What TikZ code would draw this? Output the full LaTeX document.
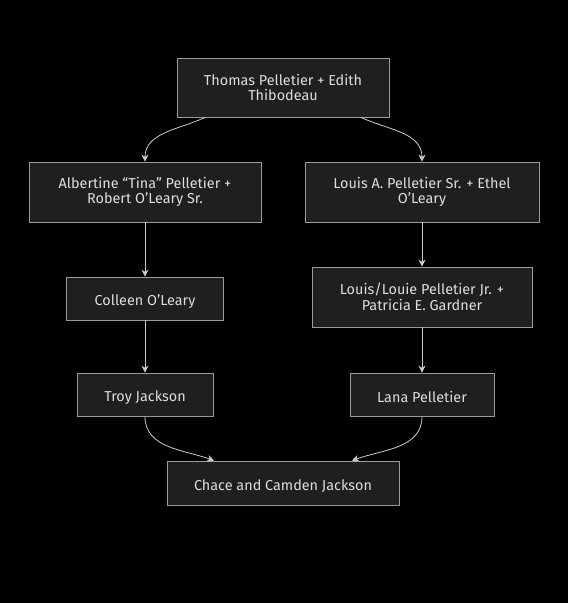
\documentclass[tikz,border=0pt]{standalone}
\usepackage{fontspec}
\setmainfont{Fira Sans}
\usepackage{tikz}
\usetikzlibrary{arrows.meta}

\definecolor{boxfill}{HTML}{1F1F1F}
\definecolor{boxline}{HTML}{9A9A9A}
\definecolor{txt}{HTML}{DDDDDD}
\definecolor{wire}{HTML}{CCCCCC}

\begin{document}
\begin{tikzpicture}[x=1pt, y=-1pt,
    person/.style = {draw=boxline, fill=boxfill, text=txt, align=center,
      inner sep=0pt, line width=0.8pt, font=\fontsize{14.4}{15.8}\selectfont,
      execute at begin node={\rule{0pt}{16.5pt}},
      execute at end node={\rule{0pt}{16.5pt}}},
    link/.style = {draw=wire, line width=0.8pt,
      -{Stealth[length=7pt, width=7pt]}}]
    \fill[black] (0,0) rectangle (568,603);
    \useasboundingbox (0,0) rectangle (568,603);

      \node[person, minimum width=212pt, minimum height=59pt] (thomas) at (283,87.5)
        {Thomas Pelletier + Edith\\Thibodeau};

      \node[person, minimum width=232pt, minimum height=60pt] (tina) at (145,192)
        {Albertine “Tina” Pelletier +\\Robert O’Leary Sr.};
      \node[person, minimum width=234pt, minimum height=60pt] (louis) at (422,192)
        {Louis A. Pelletier Sr. + Ethel\\O’Leary};

      \node[person, minimum width=157pt, minimum height=43pt] (colleen) at (145,298.5)
        {Colleen O’Leary};
      \node[person, minimum width=220pt, minimum height=60pt] (louie) at (422,297)
        {Louis/Louie Pelletier Jr. +\\Patricia E. Gardner};

      \node[person, minimum width=136pt, minimum height=43pt] (troy) at (145,394.5)
        {Troy Jackson};
      \node[person, minimum width=144pt, minimum height=43pt] (lana) at (422,394.5)
        {Lana Pelletier};

      \node[person, minimum width=232pt, minimum height=44pt] (chace) at (283,483)
        {Chace and Camden Jackson};

      % parents down to the children
      \draw[link] (thomas.-159) to[out=-155, in=90] (tina.north);
      \draw[link] (thomas.-21) to[out=-25, in=90] (louis.north);
      \draw[link] (tina) -- (colleen);
      \draw[link] (colleen) -- (troy);
      \draw[link] (louis) -- (louie);
      \draw[link] (louie) -- (lana);
      \draw[link] (troy.south) to[out=-90, in=160] (chace.162);
      \draw[link] (lana.south) to[out=-90, in=20] (chace.18);
  \end{tikzpicture}
\end{document}
